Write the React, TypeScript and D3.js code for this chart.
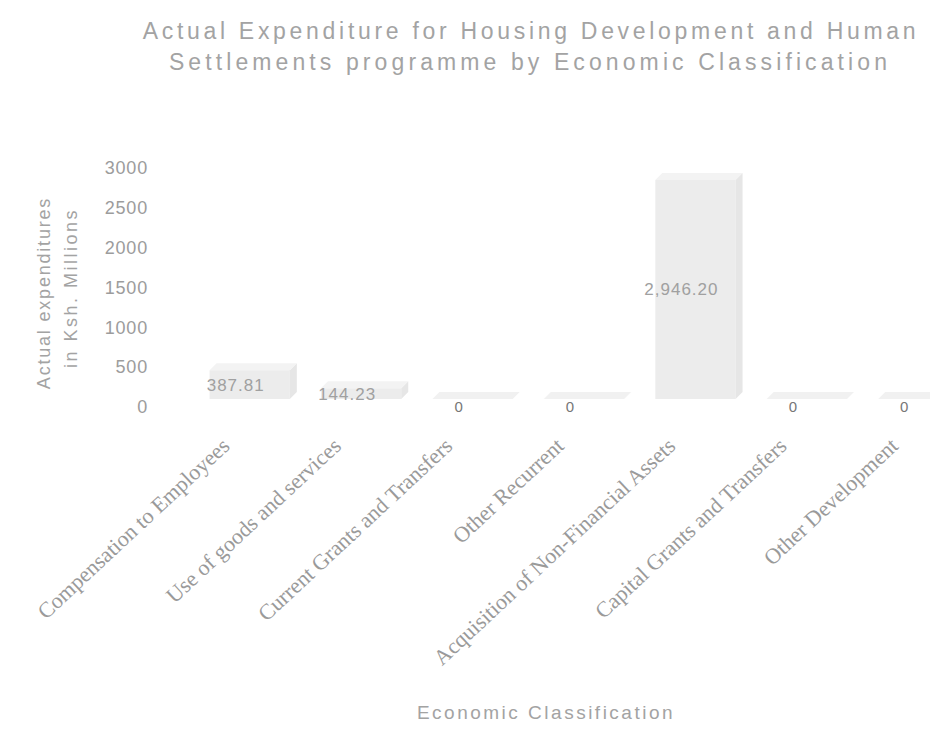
import React from "react";
import * as d3 from "d3";

const categories = [
  "Compensation to Employees",
  "Use of goods and services",
  "Current Grants and Transfers",
  "Other Recurrent",
  "Acquisition of Non-Financial Assets",
  "Capital Grants and Transfers",
  "Other Development",
];
const values = [387.81, 144.23, 0, 0, 2946.2, 0, 0];
const valueLabels = ["387.81", "144.23", "0", "0", "2,946.20", "0", "0"];
const yTicks = [0, 500, 1000, 1500, 2000, 2500, 3000];
const titleLines = [
  "Actual Expenditure for Housing Development and Human",
  "Settlements programme by Economic Classification",
];
const yTitleLines = ["Actual expenditures", "in Ksh. Millions"];
const xTitle = "Economic Classification";

const W = 930;
const H = 730;

export default function App() {
  const x = d3
    .scaleBand<string>()
    .domain(categories)
    .range([194, 974])
    .paddingInner(0.28)
    .paddingOuter(0.14);
  // tick scale (axis labels) and bar scale (3D perspective, slightly compressed)
  const y = d3.scaleLinear().domain([0, 3000]).range([407, 168]);
  const yBar = d3.scaleLinear().domain([0, 3000]).range([399, 176]);
  const dx = 7;
  const dy = -7;
  const sans = "'Liberation Sans', Arial, sans-serif";
  const serif = "'Liberation Serif', 'DejaVu Serif', serif";

  return (
    <svg
      width={W}
      height={H}
      style={{ position: "absolute", left: 0, top: 0, background: "#fff" }}
    >
      {/* title */}
      <text x={531} y={39} textAnchor="middle" fontFamily={sans} fontSize={23} fill="#a3a3a3" letterSpacing={3.7}>
        {titleLines[0]}
      </text>
      <text x={530} y={70} textAnchor="middle" fontFamily={sans} fontSize={23} fill="#a3a3a3" letterSpacing={4.1}>
        {titleLines[1]}
      </text>

      {/* y tick labels */}
      {yTicks.map((t) => (
        <text key={t} x={148} y={y(t)} dy="0.35em" textAnchor="end" fontFamily={sans} fontSize={18} fill="#9c9c9c" letterSpacing={0.8}>
          {t}
        </text>
      ))}

      {/* y axis title */}
      <g transform="translate(44,293) rotate(-90)">
        <text textAnchor="middle" dy="0.35em" fontFamily={sans} fontSize={18} fill="#a3a3a3" letterSpacing={1.8}>
          {yTitleLines[0]}
        </text>
      </g>
      <g transform="translate(71,288) rotate(-90)">
        <text textAnchor="middle" dy="0.35em" fontFamily={sans} fontSize={18} fill="#a3a3a3" letterSpacing={2.5}>
          {yTitleLines[1]}
        </text>
      </g>

      {/* bars */}
      {categories.map((c, i) => {
        const x0 = x(c)!;
        const bw = x.bandwidth();
        const top = yBar(values[i]);
        const bottom = yBar(0);
        const x1 = x0 + bw;
        const topFace = `M${x0},${top} L${x0 + dx},${top + dy} L${x1 + dx},${top + dy} L${x1},${top} Z`;
        const sideFace = `M${x1},${top} L${x1 + dx},${top + dy} L${x1 + dx},${bottom + dy} L${x1},${bottom} Z`;
        return (
          <g key={c}>
            {values[i] > 0 && (
              <rect x={x0} y={top} width={bw} height={bottom - top} fill="#ececec" />
            )}
            {values[i] > 0 && <path d={sideFace} fill="#e6e6e6" />}
            <path d={topFace} fill={values[i] > 0 ? "#f3f3f3" : "#f1f1f1"} />
          </g>
        );
      })}

      {/* data labels */}
      {categories.map((c, i) => {
        const cx = x(c)! + x.bandwidth() / 2 - 14;
        const ly = values[i] > 0 ? yBar(values[i] / 2) : y(0);
        return (
          <text key={c} x={cx} y={ly} dy="0.35em" textAnchor="middle" fontFamily={sans} fontSize={values[i] > 0 ? 17 : 15} fill={values[i] > 0 ? "#a0a0a0" : "#777"} letterSpacing={values[i] > 0 ? 1 : 0}>
            {valueLabels[i]}
          </text>
        );
      })}

      {/* x category labels */}
      {categories.map((c) => {
        const ex = x(c)! + x.bandwidth() / 2 - 24;
        return (
          <g key={c} transform={`translate(${ex},${442}) rotate(-43)`}>
            <text textAnchor="end" dy="0.35em" fontFamily={serif} fontSize={22} fill="#9a9a9a">
              {c}
            </text>
          </g>
        );
      })}

      {/* x axis title */}
      <text x={546} y={719} textAnchor="middle" fontFamily={sans} fontSize={19} fill="#a3a3a3" letterSpacing={2.5}>
        {xTitle}
      </text>
    </svg>
  );
}
